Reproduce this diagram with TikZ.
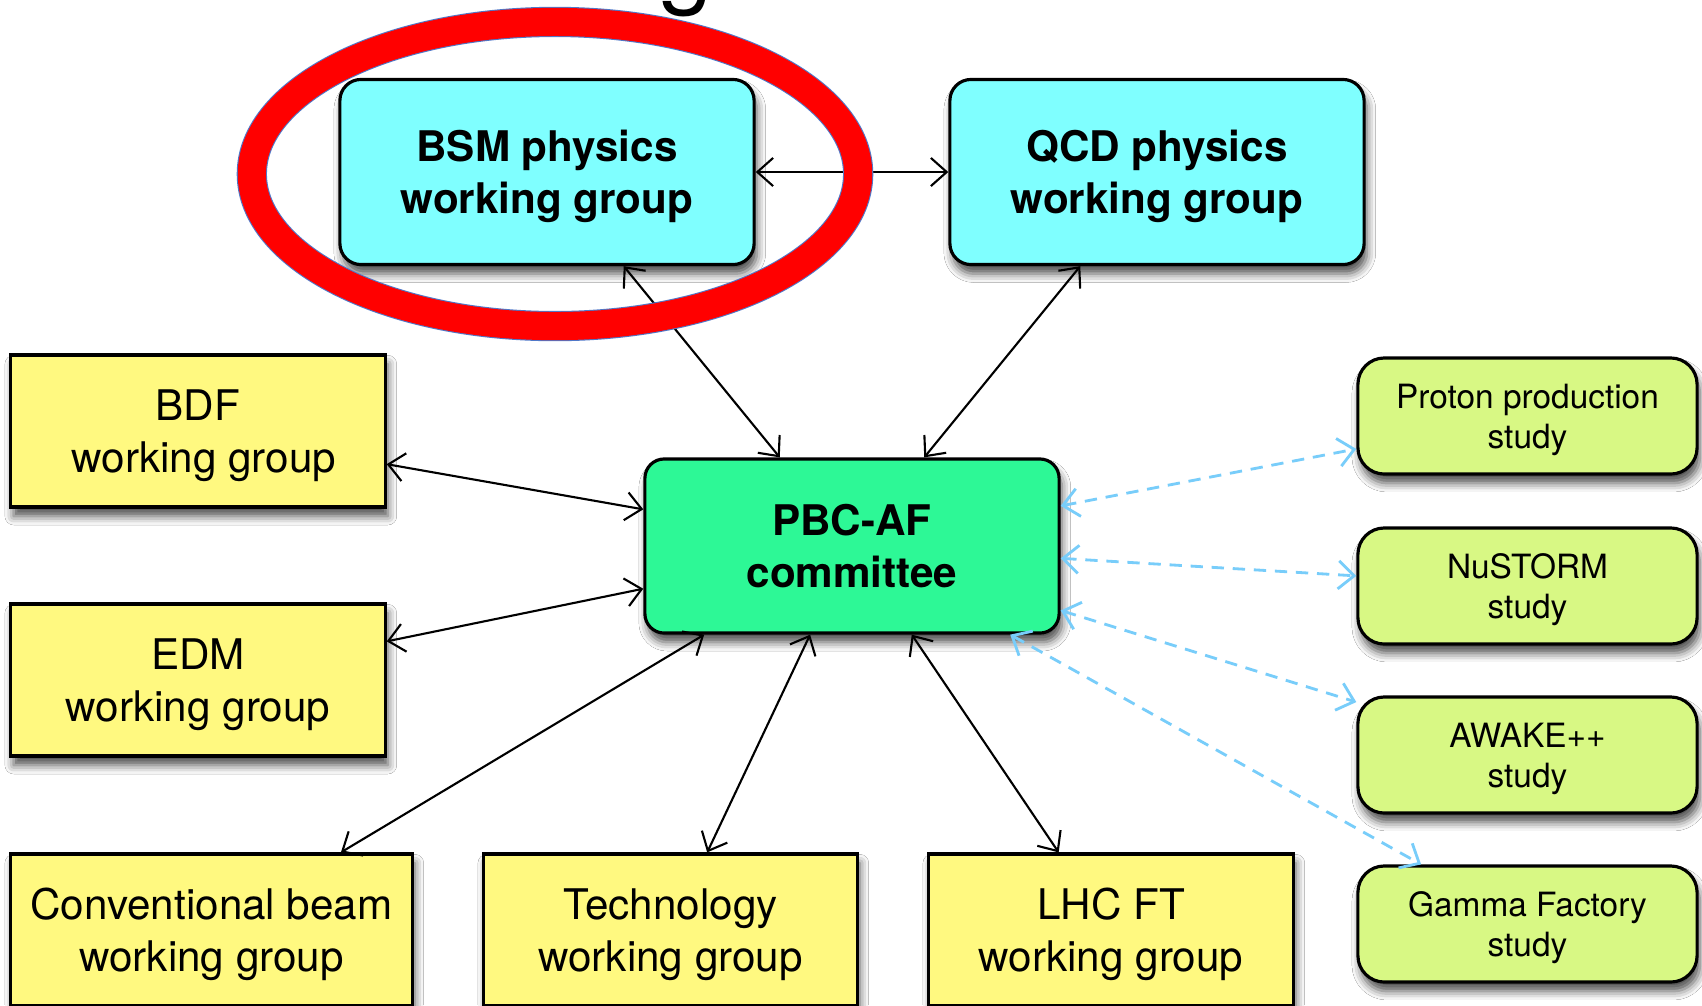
\documentclass[tikz,border=0pt]{standalone}
\usepackage{fontspec}
\setmainfont{TeX Gyre Heros}
\usetikzlibrary{arrows.meta,shadows.blur}
\definecolor{physcyan}{RGB}{127,255,255}
\definecolor{pbcgreen}{RGB}{45,248,150}
\definecolor{wgyellow}{RGB}{255,249,128}
\definecolor{studygreen}{RGB}{216,248,132}
\definecolor{dashblue}{RGB}{120,205,250}
\definecolor{ringblue}{RGB}{80,120,200}

\begin{document}
\begin{tikzpicture}[x=0.01cm,y=-0.01cm]
        \tikzstyle{box} = [draw, line width=0.9pt, inner sep=0pt, align=center, text depth=-0.3pt,
          blur shadow={shadow xshift=0.8pt, shadow yshift=-2.6pt, shadow blur radius=2.5pt, shadow opacity=70}]
        \tikzstyle{pg} = [box, fill=physcyan, rounded corners=6pt, minimum width=4.14cm, minimum height=1.85cm,
          font=\bfseries\fontsize{12}{14.7}\selectfont]
        \tikzstyle{cmt} = [box, fill=pbcgreen, rounded corners=5.5pt, minimum width=4.14cm, minimum height=1.74cm,
          font=\bfseries\fontsize{12}{14.7}\selectfont]
        \tikzstyle{wg} = [box, fill=wgyellow, minimum width=3.74cm, minimum height=1.52cm,
          font=\fontsize{12}{14.7}\selectfont]
        \tikzstyle{st} = [box, fill=studygreen, rounded corners=7.5pt, minimum width=3.39cm, minimum height=1.16cm,
          font=\fontsize{9.5}{11.4}\selectfont]
        \tikzstyle{e} = [line width=0.6pt, <->, >={Straight Barb[length=4.5pt,width=8pt]}]
        \tikzstyle{d} = [e, draw=dashblue, line width=0.8pt, dash pattern=on 3.5pt off 2.5pt]
        \tikzstyle{ring} = [line width=8pt, draw=red]

        \useasboundingbox (0,0) rectangle (1702,1005);
        \clip (0,0) rectangle (1702,1005);
        \fill[white] (0,0) rectangle (1702,1005);

        % cut-off title
        \node[font=\fontsize{28}{30}\selectfont, anchor=base, inner sep=0pt](ttl) at (686,-5){g};

        \node[pg](bsm) at (547,172){BSM physics\\working group};
        \node[pg](qcd) at (1157,172){QCD physics\\working group};
        \node[cmt](pbc) at (852,546){PBC-AF\\committee};

        \node[wg](bdf) at (198,431){BDF\\\hspace{0.28em}working group};
        \node[wg](edm) at (198,680){EDM\\working group};
        \node[wg, minimum width=4.01cm](conv) at (211.5,930){Conventional beam\\working group};
        \node[wg, minimum width=3.73cm](tech) at (670.5,930){Technology\\working group};
        \node[wg, minimum width=3.64cm](lhc) at (1111,930){LHC FT\\working group};

        \node[st](pps) at (1527.5,416){Proton production\\study};
        \node[st](nus) at (1527.5,586){NuSTORM\\study};
        \node[st](awk) at (1527.5,755){AWAKE++\\study};
        \node[st](gam) at (1527.5,924){Gamma Factory\\study};

        \draw[e](bsm) -- (qcd);
        \draw[e](bsm) -- (pbc);
        \draw[e](qcd) -- (pbc);
        \draw[e](bdf) -- (pbc);
        \draw[e](edm) -- (pbc);
        \draw[e](conv) -- (pbc);
        \draw[e](tech) -- (pbc);
        \draw[e](lhc) -- (pbc);

        \draw[d](pbc) -- (pps);
        \draw[d](pbc) -- (nus);
        \draw[d](pbc) -- (awk);
        \draw[d](pbc) -- (gam);

        % highlight
        \draw[ring, line width=8.6pt, draw=ringblue] (555,174) ellipse [x radius=3.03cm, y radius=1.52cm];
        \draw[ring] (555,174) ellipse [x radius=3.03cm, y radius=1.52cm];

    \end{tikzpicture}
\end{document}
